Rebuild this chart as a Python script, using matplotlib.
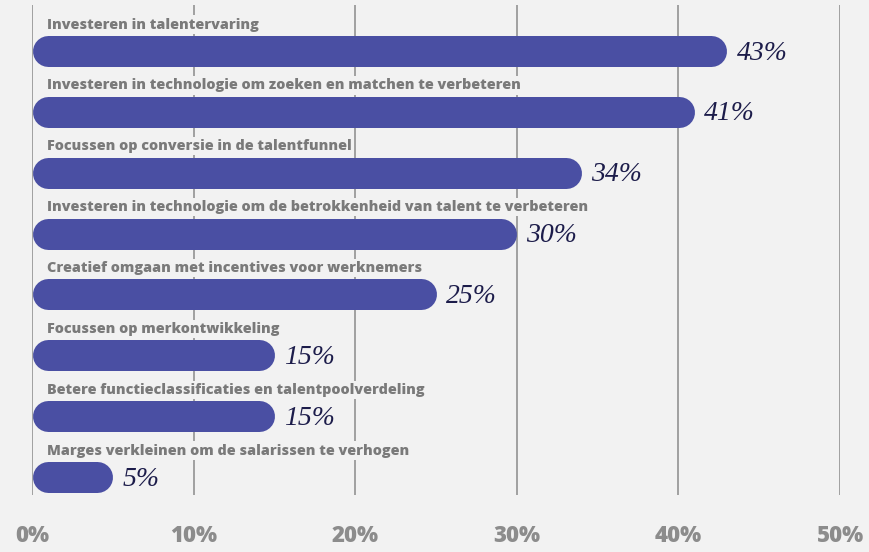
import matplotlib
matplotlib.use("Agg")
import matplotlib.pyplot as plt

categories = [
    "Investeren in talentervaring",
    "Investeren in technologie om zoeken en matchen te verbeteren",
    "Focussen op conversie in de talentfunnel",
    "Investeren in technologie om de betrokkenheid van talent te verbeteren",
    "Creatief omgaan met incentives voor werknemers",
    "Focussen op merkontwikkeling",
    "Betere functieclassificaties en talentpoolverdeling",
    "Marges verkleinen om de salarissen te verhogen",
]
values = [43, 41, 34, 30, 25, 15, 15, 5]
ticks = [0, 10, 20, 30, 40, 50]
tick_labels = ["0%", "10%", "20%", "30%", "40%", "50%"]

BG = "#f2f2f2"
BAR = "#4a4fa3"
GRID = "#9a9a9a"
LABEL = "#7a7a7a"
VALUE = "#1c1c4a"

W, H, DPI = 869, 552, 100
fig = plt.figure(figsize=(W / DPI, H / DPI), dpi=DPI, facecolor=BG)
left_px, right_px, top_px, bot_px = 32, 840, 5, 495
ax = fig.add_axes([left_px / W, 1 - bot_px / H, (right_px - left_px) / W, (bot_px - top_px) / H])
ax.set_facecolor(BG)
first_c, last_c = 51, 477
ppu = (last_c - first_c) / (len(values) - 1)
ax.set_xlim(0, 50)
ax.set_ylim((len(values) - 1) + (bot_px - last_c) / ppu, -(first_c - top_px) / ppu)

for s in ax.spines.values():
    s.set_visible(False)
ax.set_yticks([])
ax.set_xticks(ticks)
ax.set_xticklabels(tick_labels, fontfamily="Open Sans", fontweight="heavy", fontsize=16, color="#8c8c8c")
ax.tick_params(axis="x", length=0, pad=21)
ax.xaxis.grid(True, color=GRID, linewidth=1.3, zorder=0)
ax.set_axisbelow(True)

bar_px = 31
lw_pt = bar_px * 72 / DPI
r_data = (bar_px / 2) / ((right_px - left_px) / 50)

for i, (cat, v) in enumerate(zip(categories, values)):
    ax.plot([r_data, v - r_data], [i, i], color=BAR, linewidth=lw_pt,
            solid_capstyle="round", zorder=3)
    ax.annotate(cat, xy=(0, i), xytext=(10.8, 19), textcoords="offset points",
                ha="left", va="center", fontfamily="Open Sans", fontweight="heavy",
                fontsize=10.35, color=LABEL, zorder=4,
                bbox=dict(boxstyle="square,pad=0.15", facecolor=BG, edgecolor="none"))
    ax.annotate(f"{v}%", xy=(v, i), xytext=(7, -1.5), textcoords="offset points",
                ha="left", va="center", fontfamily="Liberation Serif", fontstyle="italic",
                fontsize=20, color=VALUE, zorder=4, annotation_clip=False)

fig.savefig("out.png", dpi=DPI, facecolor=BG)
